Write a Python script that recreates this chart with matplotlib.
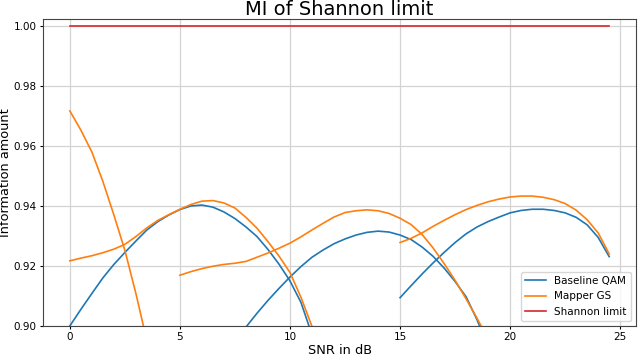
import matplotlib
matplotlib.use("Agg")
import matplotlib.pyplot as plt
import numpy as np

# SNR grid (dB) of each curve, half-dB steps
qam_x1 = np.arange(0, 11.75, 0.5)
qam_x2 = np.arange(7.5, 19.25, 0.5)
qam_x3 = np.arange(15, 24.75, 0.5)
gs_x1 = np.arange(0, 4.25, 0.5)
gs_x2 = np.arange(0, 11.75, 0.5)
gs_x3 = np.arange(5, 19.25, 0.5)
gs_x4 = np.arange(15, 24.75, 0.5)

# Baseline QAM (three overlapping curves, same colour)
qam_y1 = [0.9000, 0.9055, 0.9108, 0.9160, 0.9205, 0.9245, 0.9283, 0.9320,
          0.9348, 0.9370, 0.9388, 0.9400, 0.9403, 0.9396, 0.9380, 0.9358,
          0.9330, 0.9298, 0.9255, 0.9206, 0.9150, 0.9078, 0.8970, 0.8860]
qam_y2 = [0.8940, 0.8996, 0.9042, 0.9085, 0.9125, 0.9163, 0.9198, 0.9229,
          0.9253, 0.9274, 0.9290, 0.9303, 0.9312, 0.9316, 0.9313, 0.9303,
          0.9288, 0.9263, 0.9232, 0.9193, 0.9148, 0.9097, 0.9020, 0.8930]
qam_y3 = [0.9094, 0.9134, 0.9173, 0.9210, 0.9245, 0.9278, 0.9307, 0.9330,
          0.9348, 0.9363, 0.9377, 0.9385, 0.9389, 0.9389, 0.9385, 0.9377,
          0.9362, 0.9337, 0.9295, 0.9231]

# Mapper GS (four curves)
gs_y1 = [0.9717, 0.9653, 0.9580, 0.9482, 0.9370, 0.9252, 0.9108, 0.8950,
         0.8770]
gs_y2 = [0.9217, 0.9226, 0.9234, 0.9244, 0.9256, 0.9272, 0.9298, 0.9327,
         0.9352, 0.9371, 0.9389, 0.9405, 0.9416, 0.9418, 0.9410, 0.9393,
         0.9362, 0.9326, 0.9281, 0.9233, 0.9178, 0.9095, 0.8998, 0.8880]
gs_y3 = [0.9169, 0.9181, 0.9191, 0.9199, 0.9205, 0.9209, 0.9215, 0.9229,
         0.9243, 0.9259, 0.9276, 0.9297, 0.9320, 0.9342, 0.9363, 0.9378,
         0.9384, 0.9387, 0.9384, 0.9375, 0.9359, 0.9338, 0.9305, 0.9260,
         0.9208, 0.9152, 0.9090, 0.9025, 0.8955]
gs_y4 = [0.9278, 0.9292, 0.9310, 0.9332, 0.9352, 0.9371, 0.9388, 0.9402,
         0.9414, 0.9423, 0.9430, 0.9433, 0.9433, 0.9429, 0.9421, 0.9408,
         0.9386, 0.9354, 0.9310, 0.9240]

shannon_x = [0, 24.5]
shannon_y = [1.0, 1.0]

fig = plt.figure(figsize=(6.4, 3.55), dpi=100)
ax = fig.add_axes([0.067, 0.082, 0.927, 0.864])

lw = 1.2
ax.plot(qam_x1, qam_y1, color='tab:blue', lw=lw, label='Baseline QAM')
ax.plot(qam_x2, qam_y2, color='tab:blue', lw=lw)
ax.plot(qam_x3, qam_y3, color='tab:blue', lw=lw)
ax.plot(gs_x1, gs_y1, color='tab:orange', lw=lw, label='Mapper GS')
ax.plot(gs_x2, gs_y2, color='tab:orange', lw=lw)
ax.plot(gs_x3, gs_y3, color='tab:orange', lw=lw)
ax.plot(gs_x4, gs_y4, color='tab:orange', lw=lw)
ax.plot(shannon_x, shannon_y, color='tab:red', lw=lw, label='Shannon limit')

ax.set_xlim(-1.225, 25.725)
ax.set_ylim(0.90, 1.0023)
ax.set_xticks([0, 5, 10, 15, 20, 25])
ax.set_yticks([0.90, 0.92, 0.94, 0.96, 0.98, 1.00])
ax.yaxis.set_major_formatter(matplotlib.ticker.FormatStrFormatter('%.2f'))
ax.tick_params(labelsize=7.5, length=2.5, pad=2)
ax.grid(True, color='#d3d3d3', lw=0.9)
for s in ax.spines.values():
    s.set_color('#444444')

ax.set_title('MI of Shannon limit', fontsize=14, pad=3)
ax.set_xlabel('SNR in dB', fontsize=9.3, labelpad=1)
ax.set_ylabel('Information amount', fontsize=9.3)
ax.yaxis.set_label_coords(-0.052, 0.5)
ax.legend(loc='lower right', fontsize=7.5)

fig.savefig('out.png', dpi=100)
